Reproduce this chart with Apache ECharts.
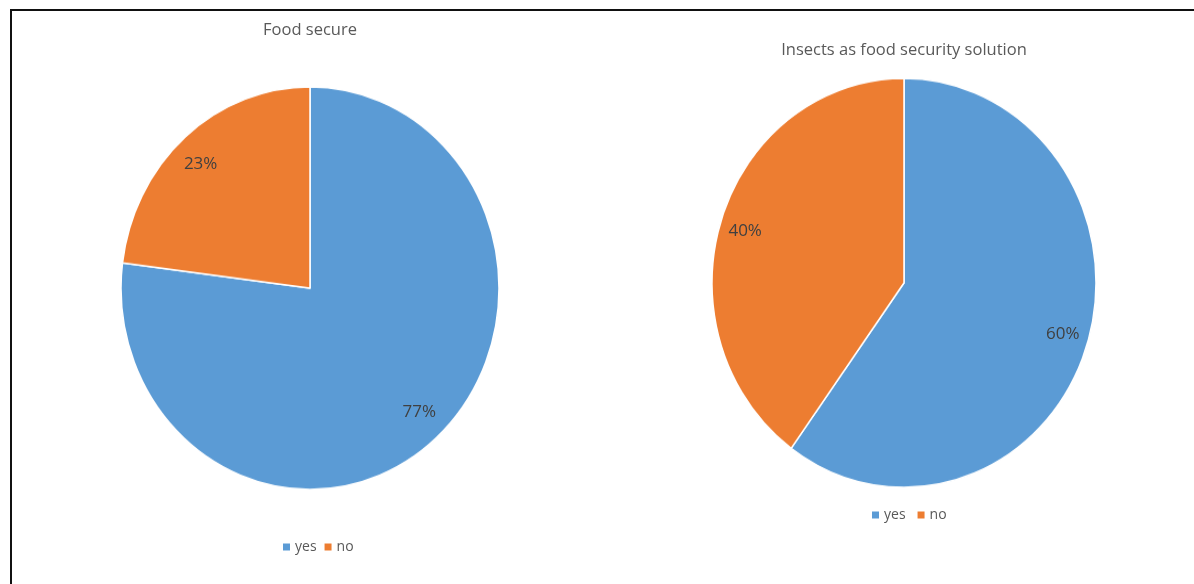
<!DOCTYPE html>
<html>
<head>
<meta charset="utf-8">
<script src="https://cdn.jsdelivr.net/npm/echarts@6/dist/echarts.min.js"></script>
<style>
  html, body { margin: 0; padding: 0; background: #fff; overflow: hidden; }
  #frame { position: absolute; left: 10px; top: 9px; width: 1184px; height: 575px;
           border-top: 2px solid #111; border-left: 2px solid #111; box-sizing: border-box; }
  #pies { position: absolute; left: 0; top: 0; width: 1194px; height: 584px;
          transform: scaleY(1.065); transform-origin: 0 285.5px; }
  #chart { position: absolute; left: 0; top: 0; width: 1194px; height: 584px; }
</style>
</head>
<body>
<div id="frame"></div>
<div id="pies"></div>
<div id="chart"></div>
<script>
const categories = ['yes', 'no'];
const foodSecure = [77, 23];
const insectsSolution = [60, 40];
const titles = ['Food secure', 'Insects as food security solution'];
const colors = ['#5B9BD5', '#ED7D31'];

function toData(vals) {
  return categories.map((c, i) => ({ name: c, value: vals[i] }));
}
const font = '"Open Sans", "Noto Sans", sans-serif';

// Layer 1: the pie slices (stretched slightly vertically, like the original)
const pies = echarts.init(document.getElementById('pies'));
function sliceSeries(vals, center, r) {
  return {
    type: 'pie', center: center, radius: r, startAngle: 90, clockwise: true,
    data: toData(vals), label: { show: false }, labelLine: { show: false },
    itemStyle: { borderColor: '#fff', borderWidth: 1.5 },
    emphasis: { disabled: true }, silent: true, animation: false
  };
}
pies.setOption({
  color: colors, animation: false,
  series: [
    sliceSeries(foodSecure, [310, 288], 189),
    sliceSeries(insectsSolution, [904, 283], 192)
  ]
});

// Layer 2: texts (titles, legends, percentage labels)
const chart = echarts.init(document.getElementById('chart'));
function labelSeries(vals, center, r) {
  return {
    type: 'pie', center: center, radius: [r * 0.64, r], startAngle: 90, clockwise: true,
    data: toData(vals), legendHoverLink: false,
    itemStyle: { color: 'rgba(0,0,0,0)', borderWidth: 0 },
    label: { show: true, position: 'inside', formatter: '{c}%', color: '#404040',
             fontSize: 17, fontFamily: font },
    labelLine: { show: false }, emphasis: { disabled: true }, silent: true, animation: false
  };
}
const legendData = categories.map((c, i) => ({ name: c, itemStyle: { color: colors[i] } }));
const legendText = { color: '#595959', fontSize: 14, fontFamily: font };
chart.setOption({
  animation: false,
  title: [
    { text: titles[0], left: 305, top: 17, textAlign: 'center',
      textStyle: { color: '#595959', fontSize: 16.5, fontWeight: 'normal', fontFamily: font } },
    { text: titles[1], left: 899, top: 37, textAlign: 'center',
      textStyle: { color: '#595959', fontSize: 16.5, fontWeight: 'normal', fontFamily: font } }
  ],
  legend: [
    { data: legendData, left: 278, top: 535, itemWidth: 7, itemHeight: 7, itemGap: 8,
      icon: 'rect', textStyle: legendText, selectedMode: false },
    { data: legendData, left: 867, top: 503, itemWidth: 7, itemHeight: 7, itemGap: 12,
      icon: 'rect', textStyle: legendText, selectedMode: false }
  ],
  series: [
    labelSeries(foodSecure, [310, 288], 198),
    labelSeries(insectsSolution, [904, 283], 200)
  ]
});
</script>
</body>
</html>
